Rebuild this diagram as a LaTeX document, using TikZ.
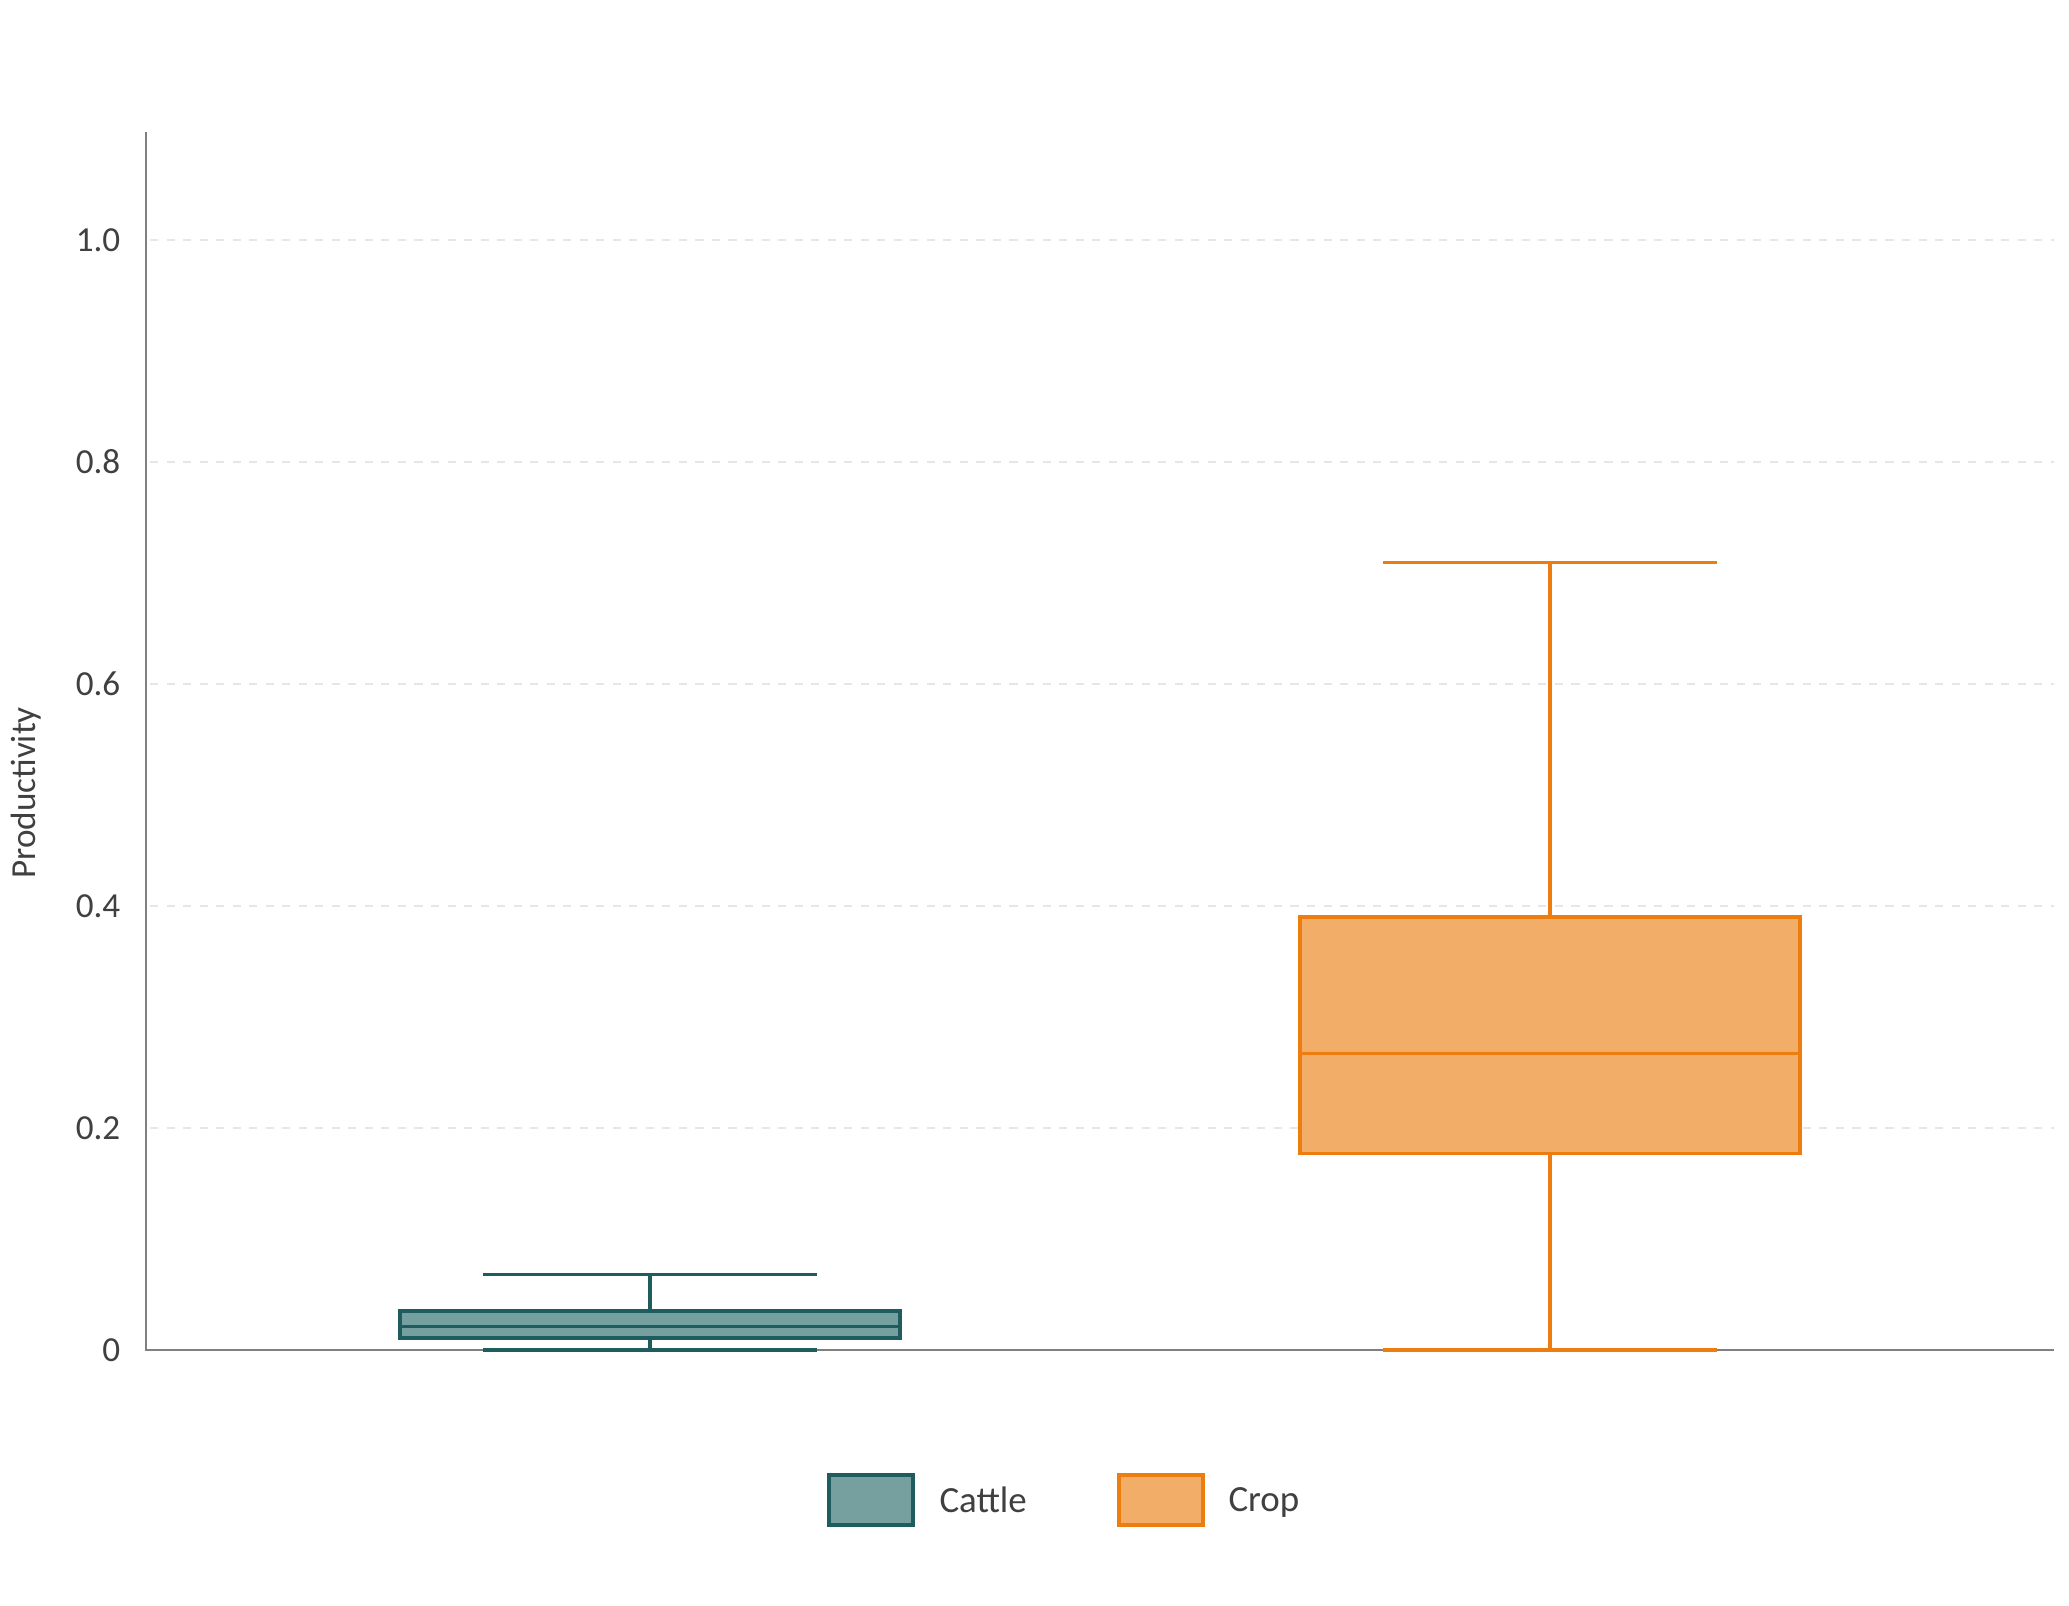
\documentclass[tikz,border=0pt]{standalone}
\usepackage{fontspec}
\setmainfont{Carlito}
\usetikzlibrary{positioning}
\definecolor{cattledark}{HTML}{1F5C5E}
\definecolor{cattlefill}{HTML}{76A09F}
\definecolor{cropdark}{HTML}{ED7D0E}
\definecolor{cropfill}{HTML}{F2AD69}
\definecolor{labelgray}{HTML}{404040}
\definecolor{axisgray}{HTML}{808080}
\definecolor{gridgray}{HTML}{E6E6E6}
\tikzset{   cattle/.style = {draw = cattledark, fill = cattlefill, line width = 1pt},
            crop/.style = {draw = cropdark, fill = cropfill, line width = 1pt},
            gridline/.style = {gridgray, line width = 0.6pt, dash pattern = on 2.3pt off 2.4pt},
            ticklabel/.style = {anchor = east, inner sep = 0, text = labelgray, font = \fontsize{10}{12}\selectfont},
            keybox/.style = {rectangle, minimum width = 0.84cm, minimum height = 0.5cm, inner sep = 0},
            keytext/.style = {inner sep = 0, text depth = 0pt, text = labelgray, font = \fontsize{10.5}{12}\selectfont}}

\begin{document}
\begin{tikzpicture}[x=0.01cm, y=0.01cm]
                        \useasboundingbox (0,0) rectangle (2069,1605);
                        \foreach \v in {0.2,0.4,0.6,0.8,1.0}
                          \draw[gridline] (150, {255 + 1110*\v}) -- (2054, {255 + 1110*\v});
                        \draw[axisgray, line width = 0.6pt] (146,1473) -- (146,255) -- (2054,255);
                        \node[ticklabel] (tick0) at (121,255) {0};
                        \foreach \v/\n in {0.2/1,0.4/2,0.6/3,0.8/4,1.0/5}
                          \node[ticklabel] (tick\n) at (121, {255 + 1110*\v}) {\v};
                        \node[rotate = 90, inner sep = 0, text = labelgray, font = \fontsize{10}{12}\selectfont] (ylab) at (26,812) {Productivity};
                        \begin{scope}[shift = {(0,255)}, y = 11.1cm]
                        % cattle
                        \draw[cattle, fill = none] (650,0.035) -- (650,0.068);
                        \draw[cattle, fill = none] (650,0.011) -- (650,0);
                        \draw[cattle, fill = none] (483,0.068) -- (817,0.068);
                        \draw[cattle, fill = none] (483,0) -- (817,0);
                        \draw[cattle] (400,0.011) rectangle (900,0.035);
                        \draw[cattle, fill = none] (400,0.021) -- (900,0.021);
                        % crop
                        \draw[crop, fill = none] (1550,0.390) -- (1550,0.709);
                        \draw[crop, fill = none] (1550,0.177) -- (1550,0);
                        \draw[crop, fill = none] (1383,0.709) -- (1717,0.709);
                        \draw[crop, fill = none] (1383,0) -- (1717,0);
                        \draw[crop] (1300,0.177) rectangle (1800,0.390);
                        \draw[crop, fill = none] (1300,0.267) -- (1800,0.267);
                        \end{scope}
                        \node[keybox, cattle] (cattlekey) at (871,105) {};
                        \node[keytext, right = 0.24cm of cattlekey] (cattlelab) {Cattle};
                        \node[keybox, crop] (cropkey) at (1161,105) {};
                        \node[keytext, right = 0.23cm of cropkey] (croplab) {Crop};
                      \end{tikzpicture}
\end{document}
